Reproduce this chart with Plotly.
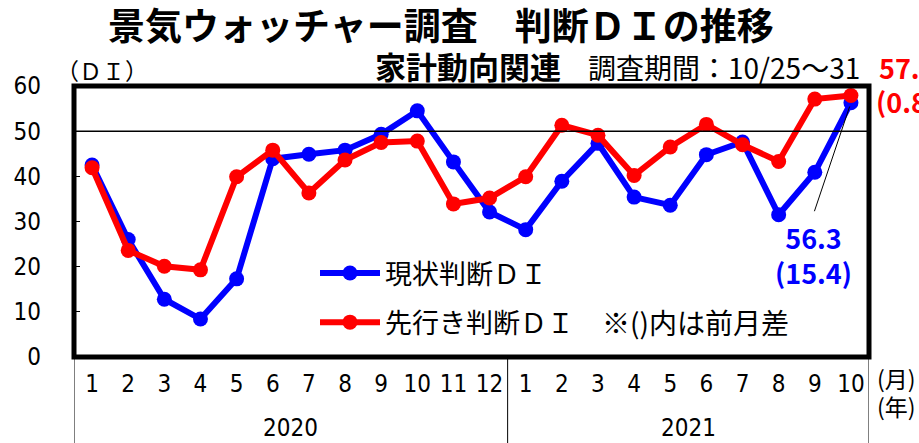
import plotly.graph_objects as go

months = ["1", "2", "3", "4", "5", "6", "7", "8", "9", "10", "11", "12",
          "1", "2", "3", "4", "5", "6", "7", "8", "9", "10"]
years = ["2020", "2021"]
genjo = [42.5, 26.0, 12.8, 8.4, 17.3, 43.9, 44.9, 45.8, 49.3, 54.5, 43.2, 32.1,
         28.2, 38.9, 47.3, 35.4, 33.6, 44.8, 47.6, 31.5, 40.9, 56.3]
sakiyuki = [41.9, 23.6, 20.1, 19.3, 39.9, 45.8, 36.3, 43.6, 47.5, 47.8, 33.9, 35.2,
            39.9, 51.3, 49.1, 40.2, 46.5, 51.5, 47.0, 43.3, 57.1, 57.9]
yticks = [0, 10, 20, 30, 40, 50, 60]

xpos = list(range(1, len(months) + 1))
JP = "Noto Sans CJK JP"
NARROW = "Liberation Sans Narrow, DejaVu Sans Condensed, Noto Sans CJK JP"

fig = go.Figure()
fig.add_trace(go.Scatter(x=xpos, y=genjo, mode="lines+markers", name="現状判断ＤＩ",
                         legendgroup="a",
                         line=dict(color="#0000FF", width=6),
                         marker=dict(color="#0000FF", size=15)))
fig.add_trace(go.Scatter(x=xpos, y=sakiyuki, mode="lines+markers", name="先行き判断ＤＩ",
                         legendgroup="b",
                         line=dict(color="#FF0000", width=6),
                         marker=dict(color="#FF0000", size=15)))

W, H = 919, 443
L = 74
R = W - 869
T = 86
B = H - 357
pw = W - L - R
ph = H - T - B

def px(x):
    return (x - L) / pw

def py(y):
    return (H - B - y) / ph

shapes = [
    dict(type="line", xref="paper", yref="y", x0=0, x1=1, y0=50, y1=50,
         line=dict(color="black", width=1.5)),
    dict(type="rect", xref="paper", yref="paper", x0=0, x1=1, y0=0, y1=1,
         line=dict(color="black", width=5)),
]
for xv in [0.5, 12.5, 22.5]:
    shapes.append(dict(type="line", xref="x", yref="paper", x0=xv, x1=xv, y0=0, y1=-0.4,
                       line=dict(color="black", width=1)))

annotations = [
    dict(text="<b>景気ウォッチャー調査　判断ＤＩの推移</b>", xref="paper", yref="paper",
         x=px(441), y=py(24), xanchor="center", yanchor="middle", showarrow=False,
         font=dict(family=JP, size=37, color="black")),
    dict(text="（ＤＩ）", xref="paper", yref="paper", x=px(54), y=py(70),
         xanchor="left", yanchor="middle", showarrow=False,
         font=dict(family=JP, size=23, color="black")),
    dict(text="<b>家計動向関連</b>", xref="paper", yref="paper", x=px(373), y=py(66),
         xanchor="left", yanchor="middle", showarrow=False,
         font=dict(family=JP, size=31, color="black")),
    dict(text="調査期間：10/25～31", xref="paper", yref="paper", x=px(586), y=py(67),
         xanchor="left", yanchor="middle", showarrow=False,
         font=dict(family=JP, size=28, color="black")),
    dict(text="<b>57.9</b>", xref="paper", yref="paper", x=px(877), y=py(67),
         xanchor="left", yanchor="middle", showarrow=False,
         font=dict(family=JP, size=27, color="#FF0000")),
    dict(text="<b>(0.8)</b>", xref="paper", yref="paper", x=px(874), y=py(101),
         xanchor="left", yanchor="middle", showarrow=False,
         font=dict(family=JP, size=27, color="#FF0000")),
    dict(text="<b>56.3</b><br><b>(15.4)</b>", xref="paper", yref="paper", x=px(813), y=py(255),
         xanchor="center", yanchor="middle", showarrow=False,
         font=dict(family=JP, size=27, color="#0000FF")),
    dict(text="", xref="x", yref="y", x=22, y=genjo[-1], ax=-37, ay=110,
         showarrow=True, arrowhead=0, arrowwidth=1, arrowcolor="black", standoff=4),
    dict(text="※()内は前月差", xref="paper", yref="paper", x=px(600), y=py(322),
         xanchor="left", yanchor="middle", showarrow=False,
         font=dict(family=JP, size=28, color="black")),
    dict(text="(月)", xref="paper", yref="paper", x=px(875), y=py(378),
         xanchor="left", yanchor="middle", showarrow=False,
         font=dict(family=JP, size=23, color="black")),
    dict(text="(年)", xref="paper", yref="paper", x=px(875), y=py(406),
         xanchor="left", yanchor="middle", showarrow=False,
         font=dict(family=JP, size=23, color="black")),
]
for i, yr in enumerate(years):
    annotations.append(dict(text=yr, xref="x", yref="paper", x=[6.5, 17.5][i], y=py(428),
                            xanchor="center", yanchor="middle", showarrow=False,
                            font=dict(family=NARROW, size=24, color="black")))

fig.update_layout(
    width=W, height=H,
    margin=dict(l=L, r=R, t=T, b=B, pad=0, autoexpand=False),
    paper_bgcolor="white", plot_bgcolor="white",
    showlegend=True,
    legend=dict(x=px(315), y=py(249), xanchor="left", yanchor="top",
                bgcolor="rgba(0,0,0,0)", borderwidth=0,
                font=dict(family=JP, size=27, color="black"),
                itemwidth=60, tracegroupgap=11),
    xaxis=dict(range=[0.5, 22.5], tickvals=xpos, ticktext=months, showgrid=False,
               zeroline=False, showline=False, ticks="", ticklabelstandoff=10,
               automargin=False,
               tickfont=dict(family=NARROW, size=24, color="black")),
    yaxis=dict(range=[0, 60], tickvals=yticks, showgrid=False, zeroline=False,
               showline=False, ticks="inside", ticklen=6, tickwidth=1, tickcolor="black",
               ticklabelstandoff=32, automargin=False,
               tickfont=dict(family=NARROW, size=24, color="black")),
    shapes=shapes,
    annotations=annotations,
)

fig.write_html("out.html", config={"displayModeBar": False},
               post_script="document.body.style.margin='0';document.body.style.overflow='hidden';")
